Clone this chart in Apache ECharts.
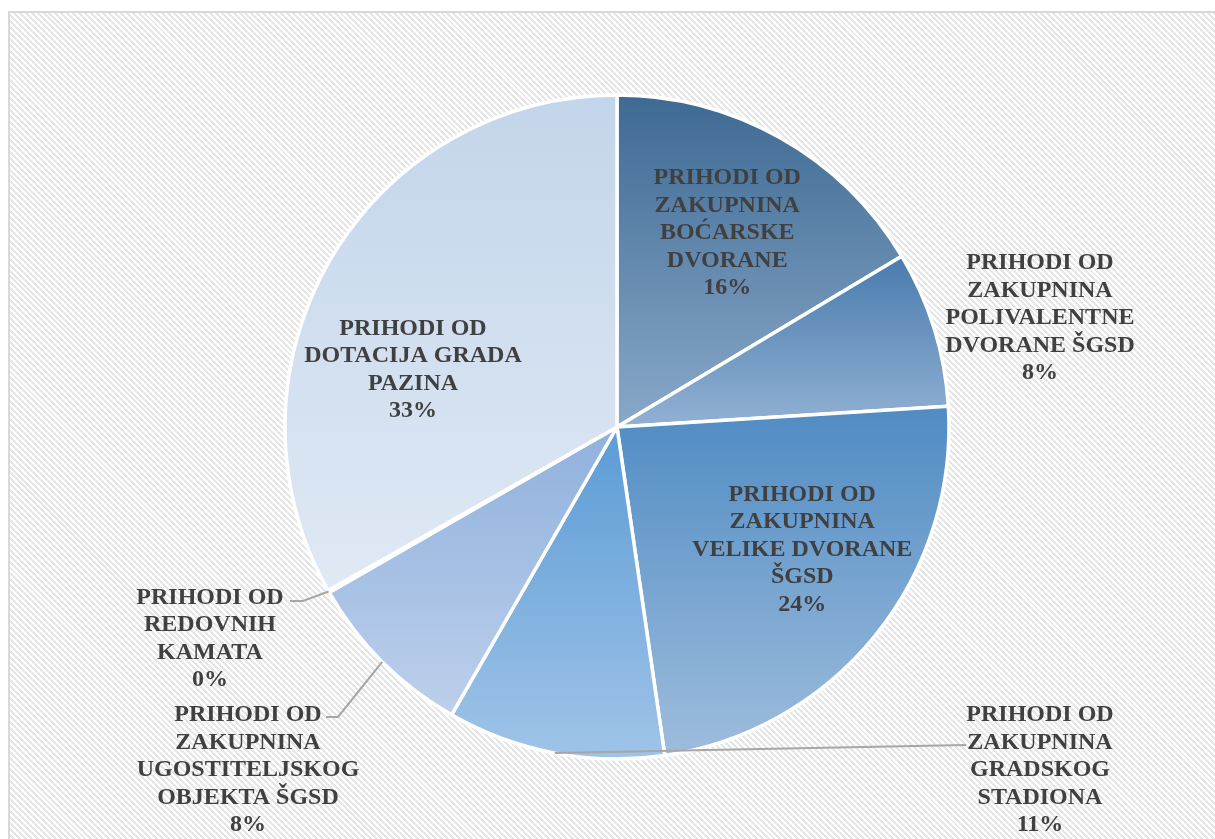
<!DOCTYPE html>
<html><head><meta charset="utf-8">
<script src="https://cdn.jsdelivr.net/npm/echarts@6/dist/echarts.min.js"></script>
<style>
html,body{margin:0;padding:0;background:#fff;width:1215px;height:839px;overflow:hidden}
#frame{position:absolute;left:8px;top:11px;width:1230px;height:850px;border-left:2px solid #d9d9d9;border-top:2px solid #d9d9d9;
background:repeating-linear-gradient(45deg,#ffffff 0px,#ffffff 2.1px,#e6e6e6 2.1px,#e6e6e6 4.2px);}
#chart{position:absolute;left:0;top:0;width:1215px;height:839px}
</style></head><body>
<div id="frame"></div><div id="chart"></div>
<script>
// Data
const categories = [
  'PRIHODI OD\nZAKUPNINA\nBOĆARSKE\nDVORANE',
  'PRIHODI OD\nZAKUPNINA\nPOLIVALENTNE\nDVORANE ŠGSD',
  'PRIHODI OD\nZAKUPNINA\nVELIKE DVORANE\nŠGSD',
  'PRIHODI OD\nZAKUPNINA\nGRADSKOG\nSTADIONA',
  'PRIHODI OD\nZAKUPNINA\nUGOSTITELJSKOG\nOBJEKTA ŠGSD',
  'PRIHODI OD\nREDOVNIH\nKAMATA',
  'PRIHODI OD\nDOTACIJA GRADA\nPAZINA'
];
const values = [16.4, 7.6, 23.7, 10.6, 8.4, 0.1, 33.2];
const insideLabels = [true, false, true, false, false, false, true];

// Styles
const topColors = ['#3d6993', '#487bad', '#4f8bc3', '#5b9bd5', '#8fb1dd', '#a9c1e6', '#c3d5eb'];
const bottomColors = ['#8aa9c9', '#93b2d4', '#9ebddd', '#a0c4e8', '#bdd0eb', '#c5d6ee', '#e0e9f4'];

const CX = 617, CY = 427, R = 332;
const placement = [
  {dx: 27, dy: -47},
  {x: CX + 423, y: CY - 109},
  {dx: 54, dy: 16},
  {x: CX + 423, y: CY + 343, line: [[CX + 349, CY + 318]]},
  {x: CX - 369, y: CY + 343, line: [[CX - 279, CY + 290], [CX - 291, CY + 290]]},
  {x: CX - 407, y: CY + 212, line: [[CX - 314, CY + 174], [CX - 327, CY + 174]]},
  {dx: -58, dy: 28}
];

const sliceData = values.map((v, i) => ({
  value: v,
  name: categories[i],
  itemStyle: {
    color: new echarts.graphic.LinearGradient(0, 0, 0, 1, [
      {offset: 0, color: topColors[i]},
      {offset: 1, color: bottomColors[i]}
    ])
  }
}));

const labelData = values.map((v, i) => ({
  value: v,
  name: categories[i],
  label: {position: insideLabels[i] ? 'inside' : 'outside'},
  labelLine: {show: !!placement[i].line}
}));

const chart = echarts.init(document.getElementById('chart'), null, {renderer: 'canvas'});
chart.setOption({
  animation: false,
  backgroundColor: 'transparent',
  series: [{
    type: 'pie',
    z: 2,
    center: [CX, CY],
    radius: R,
    startAngle: 90,
    clockwise: true,
    silent: true,
    data: sliceData,
    itemStyle: {borderColor: '#ffffff', borderWidth: 3.5},
    label: {show: false},
    labelLine: {show: false}
  }, {
    type: 'pie',
    z: 5,
    center: [CX, CY],
    radius: R,
    startAngle: 90,
    clockwise: true,
    silent: true,
    avoidLabelOverlap: false,
    data: labelData,
    itemStyle: {color: 'rgba(0,0,0,0)', borderWidth: 0},
    label: {
      show: true,
      color: '#404040',
      fontFamily: '"Liberation Serif", "Times New Roman", serif',
      fontWeight: 'bold',
      fontSize: 24,
      lineHeight: 27.5,
      align: 'center',
      formatter: p => p.name + '\n' + Math.round(p.percent) + '%'
    },
    labelLine: {
      show: true,
      length: 20,
      length2: 12,
      lineStyle: {color: '#a6a6a6', width: 2}
    },
    labelLayout: function (params) {
      const pl = placement[params.dataIndex];
      if (pl.dx !== undefined) return {dx: pl.dx, dy: pl.dy};
      const out = {x: pl.x, y: pl.y, align: 'center', verticalAlign: 'middle'};
      if (pl.line && params.labelLinePoints) {
        out.labelLinePoints = [params.labelLinePoints[0]].concat(pl.line);
      }
      return out;
    }
  }]
});
</script>
</body></html>
